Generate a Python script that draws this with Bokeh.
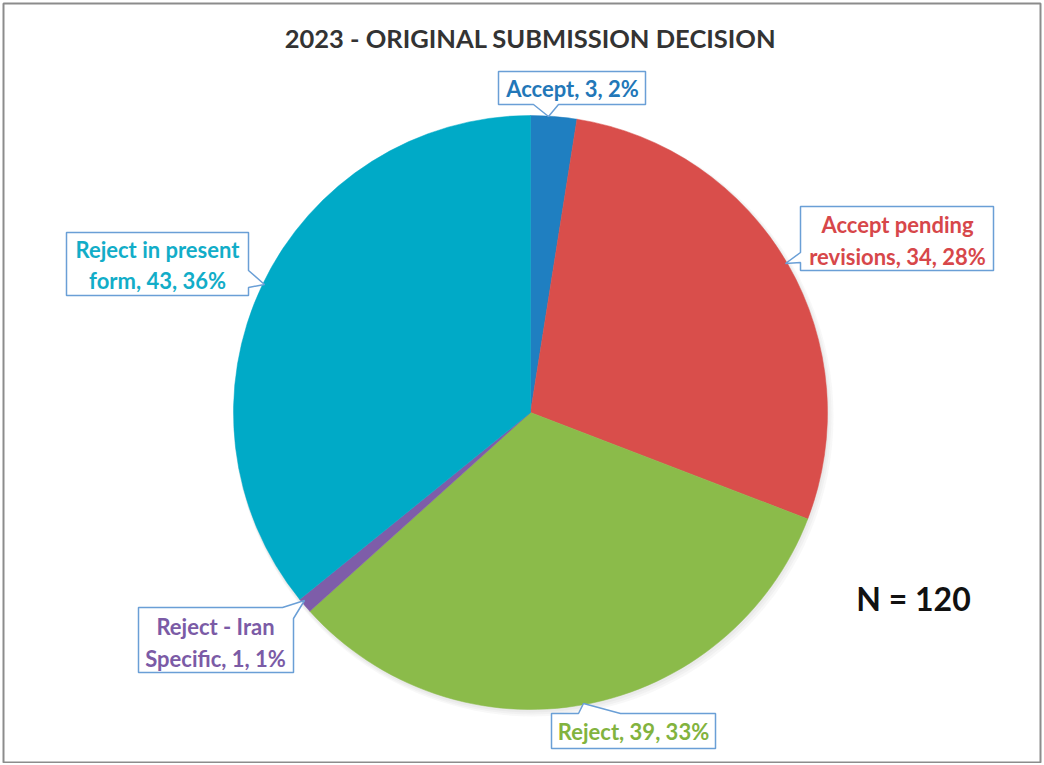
import math
from bokeh.plotting import figure
from bokeh.models import Range1d
from bokeh.core.properties import value
from bokeh.embed import file_html
from bokeh.resources import INLINE

# ---- data ----
categories = ["Accept", "Accept pending revisions", "Reject", "Reject - Iran Specific", "Reject in present form"]
counts = [3, 34, 39, 1, 43]
percents = ["2%", "28%", "33%", "1%", "36%"]
slice_colors = ["#1F7FC1", "#D94E4B", "#8BBB4A", "#7E5DA9", "#00AAC7"]
text_colors = ["#2277B8", "#D7474A", "#82B33E", "#7B5BA6", "#12ADC8"]
label_lines = [
    ["Accept, 3, 2%"],
    ["Accept pending", "revisions, 34, 28%"],
    ["Reject, 39, 33%"],
    ["Reject - Iran", "Specific, 1, 1%"],
    ["Reject in present", "form, 43, 36%"],
]
title = "2023 - ORIGINAL SUBMISSION DECISION"
n_label = "N = 120"

W, H = 1042, 763
PAGE_H = 765


def Y(py):
    return PAGE_H - py


p = figure(width=W, height=H, output_backend="svg", toolbar_location=None,
           x_range=Range1d(0, W), y_range=Range1d(PAGE_H - H, PAGE_H),
           x_axis_location=None, y_axis_location=None, min_border=0,
           background_fill_color="white", border_fill_color="white")
p.grid.visible = False
p.outline_line_color = None

# outer frame
p.patch(x=[3, 1040, 1040, 3], y=[Y(3), Y(3), Y(762), Y(762)], fill_color=None,
        line_color="#8C8C8C", line_width=2)

cx, cy, R = 530, Y(412), 297

# soft shadow
for i, a in enumerate([0.05, 0.05, 0.05]):
    p.circle(x=cx + 1 + i, y=cy - 2 - i, radius=R + 1 + i, fill_color="#777777",
             fill_alpha=a, line_color=None)

total = sum(counts)
start = math.pi / 2
starts, ends = [], []
for c in counts:
    end = start - 2 * math.pi * c / total
    starts.append(start)
    ends.append(end)
    start = end

p.wedge(x=cx, y=cy, radius=R, start_angle=starts, end_angle=ends, direction="clock",
        fill_color=slice_colors, line_color=slice_colors, line_width=0.5)

# callout boxes (pixel coords of page), with pointer
callouts = [
    [(498, 71), (645, 71), (645, 104), (558, 104), (548, 116), (533, 104), (498, 104)],
    [(800, 206), (993, 206), (993, 270), (800, 270), (800, 262), (785, 263), (800, 252)],
    [(551, 713), (578, 713), (583, 703), (620, 713), (715, 713), (715, 748), (551, 748)],
    [(138, 607), (282, 607), (304, 600), (293, 618), (293, 672), (138, 672)],
    [(66, 232), (248, 232), (248, 270), (264, 284), (248, 287), (248, 295), (66, 295)],
]
p.patches(xs=[[q[0] for q in poly] for poly in callouts],
          ys=[[Y(q[1]) for q in poly] for poly in callouts],
          fill_color="white", line_color="#6A9FD6", line_width=1.5)

text_pos = [(572, [88]), (897, [224, 256]), (633, [731]), (215, [626, 658]), (157, [249, 280])]
for (tx, tys), lines, col in zip(text_pos, label_lines, text_colors):
    p.text(x=[tx] * len(lines), y=[Y(t) for t in tys], text=lines,
           text_font=value("Lato"), text_font_style="bold", text_font_size="22px",
           text_color=col, text_align="center", text_baseline="middle")

p.text(x=[530], y=[Y(37)], text=[title], text_font=value("Lato"), text_font_style="bold",
       text_font_size="25.5px", text_color="#333333", text_align="center", text_baseline="middle")
p.text(x=[913], y=[Y(598)], text=[n_label], text_font=value("Lato"), text_font_style="bold",
       text_font_size="32px", text_color="#111111", text_align="center", text_baseline="middle")

open("out.html", "w").write(file_html(p, INLINE))
